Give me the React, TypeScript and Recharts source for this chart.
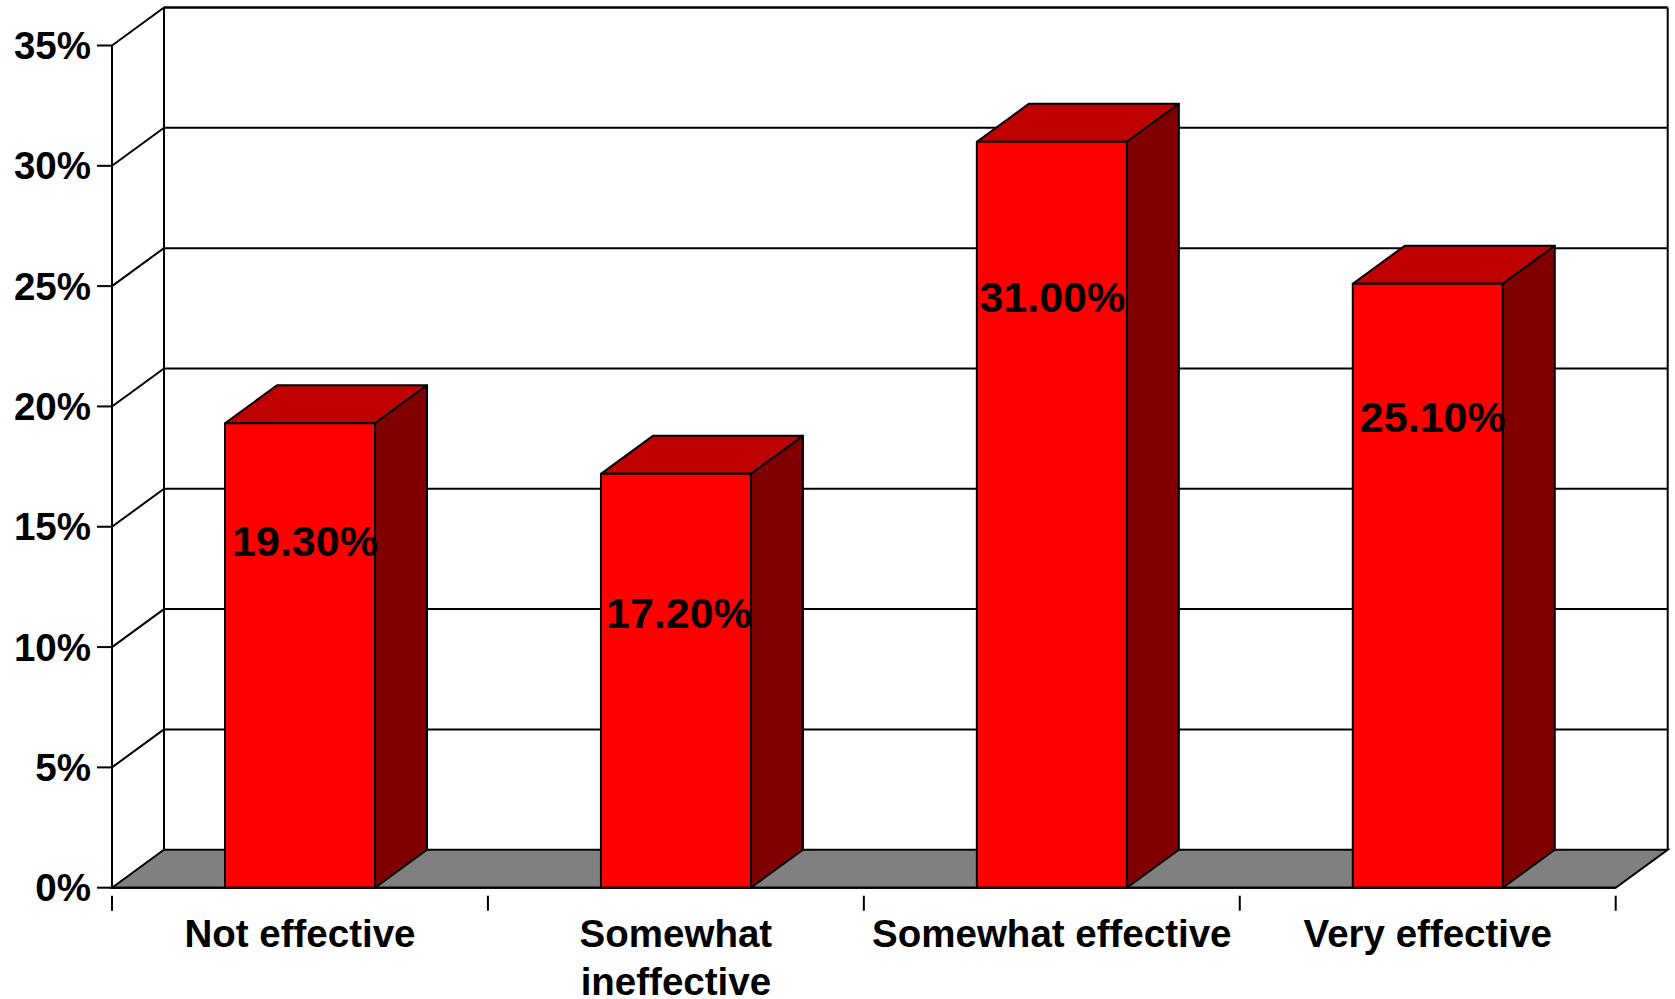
import { BarChart, Bar, XAxis, YAxis, CartesianGrid, LabelList } from "recharts";

const categoryLines = [["Not effective"], ["Somewhat", "ineffective"], ["Somewhat effective"], ["Very effective"]];
const categories = categoryLines.map((lines) => lines.join(" "));
const shares = [19.3, 17.2, 31.0, 25.1];
const yTicks = [0, 5, 10, 15, 20, 25, 30, 35];

const rows = categories.map((name, i) => ({ name, share: shares[i] }));

const FONT = "'Liberation Sans', Arial, sans-serif";
const WIDTH = 1675;
const HEIGHT = 999;
const LEFT = 112;
const TOP = 45.5;
const RIGHT = 59.3;
const AXIS_H = 111.3;
const BAND = (WIDTH - LEFT - RIGHT) / categories.length;

// depth of the fake 3d box
const DX = 52;
const DY = 38;

// the labels sit at odd spots inside the bars in the original
const labelNudge = [
  { dx: 5, dy: 118 },
  { dx: 3, dy: 139.5 },
  { dx: 0.5, dy: 155 },
  { dx: 5, dy: 133 },
];

function GridLine(props: any) {
  const { x1, x2, y1 } = props;
  const isFloor = y1 > 880;
  const isTop = y1 < TOP + 1;
  const backY = y1 - DY;
  return (
    <g>
      {isFloor && (
        <>
          <polygon
            points={`${x1},${y1} ${x1 + DX},${backY} ${x2 + DX},${backY} ${x2},${y1}`}
            fill="#808080"
            stroke="#000"
            strokeWidth={2}
          />
          <line x1={x1 + DX} y1={backY} x2={x1 + DX} y2={TOP - DY} stroke="#000" strokeWidth={2} />
          <line x1={x2 + DX} y1={backY} x2={x2 + DX} y2={TOP - DY} stroke="#000" strokeWidth={2} />
        </>
      )}
      {!isFloor && (
        <>
          <line x1={x1} y1={y1} x2={x1 + DX} y2={backY} stroke="#000" strokeWidth={2} />
          <line x1={x1 + DX} y1={backY} x2={x2 + DX} y2={backY} stroke="#000" strokeWidth={isTop ? 2.5 : 2} />
        </>
      )}
    </g>
  );
}

function BoxBar(props: any) {
  const { x, y, width, height } = props;
  const r = x + width;
  const b = y + height;
  return (
    <g stroke="#000" strokeWidth={2} strokeLinejoin="round">
      <polygon points={`${x},${y} ${x + DX},${y - DY} ${r + DX},${y - DY} ${r},${y}`} fill="#bf0000" />
      <polygon points={`${r},${y} ${r + DX},${y - DY} ${r + DX},${b - DY} ${r},${b}`} fill="#800000" />
      <rect x={x} y={y} width={width} height={height} fill="#ff0000" />
    </g>
  );
}

function CategoryTick(props: any) {
  const { x, y, index } = props;
  const left = x - BAND / 2;
  const isLast = index === categories.length - 1;
  return (
    <g>
      <line x1={left} y1={y} x2={left} y2={y + 15} stroke="#000" strokeWidth={2} />
      {isLast && <line x1={left + BAND} y1={y} x2={left + BAND} y2={y + 15} stroke="#000" strokeWidth={2} />}
      <text textAnchor="middle" fill="#000" fontFamily={FONT} fontSize={38.5} fontWeight={700}>
        {categoryLines[index].map((line, i) => (
          <tspan key={line} x={x} y={y + 51 + i * 48}>
            {line}
          </tspan>
        ))}
      </text>
    </g>
  );
}

function ValueLabel(props: any) {
  const { x, y, width, value, index } = props;
  const nudge = labelNudge[index];
  return (
    <text
      x={x + width / 2 + nudge.dx}
      y={y + nudge.dy}
      textAnchor="middle"
      dominantBaseline="central"
      fontFamily={FONT}
      fontSize={43}
      fontWeight={700}
      fill="#000"
    >
      {value.toFixed(2)}%
    </text>
  );
}

export default function App() {
  return (
    <div style={{ position: "absolute", left: 0, top: 0, width: WIDTH, height: HEIGHT, background: "#fff" }}>
      <BarChart
        width={WIDTH}
        height={HEIGHT}
        data={rows}
        barSize={150}
        margin={{ top: TOP, right: RIGHT, bottom: 0, left: 0 }}
      >
        <CartesianGrid vertical={false} horizontal={(p: any) => <GridLine key={p.key} {...p} />} />
        <XAxis
          dataKey="name"
          interval={0}
          height={AXIS_H}
          axisLine={{ stroke: "#000", strokeWidth: 2 }}
          tickLine={false}
          tick={<CategoryTick />}
        />
        <YAxis
          type="number"
          domain={[0, 35]}
          ticks={yTicks}
          width={LEFT}
          tickSize={15}
          tickMargin={6}
          interval={0}
          axisLine={{ stroke: "#000", strokeWidth: 2 }}
          tickLine={{ stroke: "#000", strokeWidth: 2 }}
          tickFormatter={(v: number) => `${v}%`}
          tick={{ fill: "#000", fontFamily: FONT, fontSize: 38.5, fontWeight: 700 }}
        />
        <Bar dataKey="share" isAnimationActive={false} shape={<BoxBar />}>
          <LabelList dataKey="share" content={<ValueLabel />} />
        </Bar>
      </BarChart>
    </div>
  );
}
